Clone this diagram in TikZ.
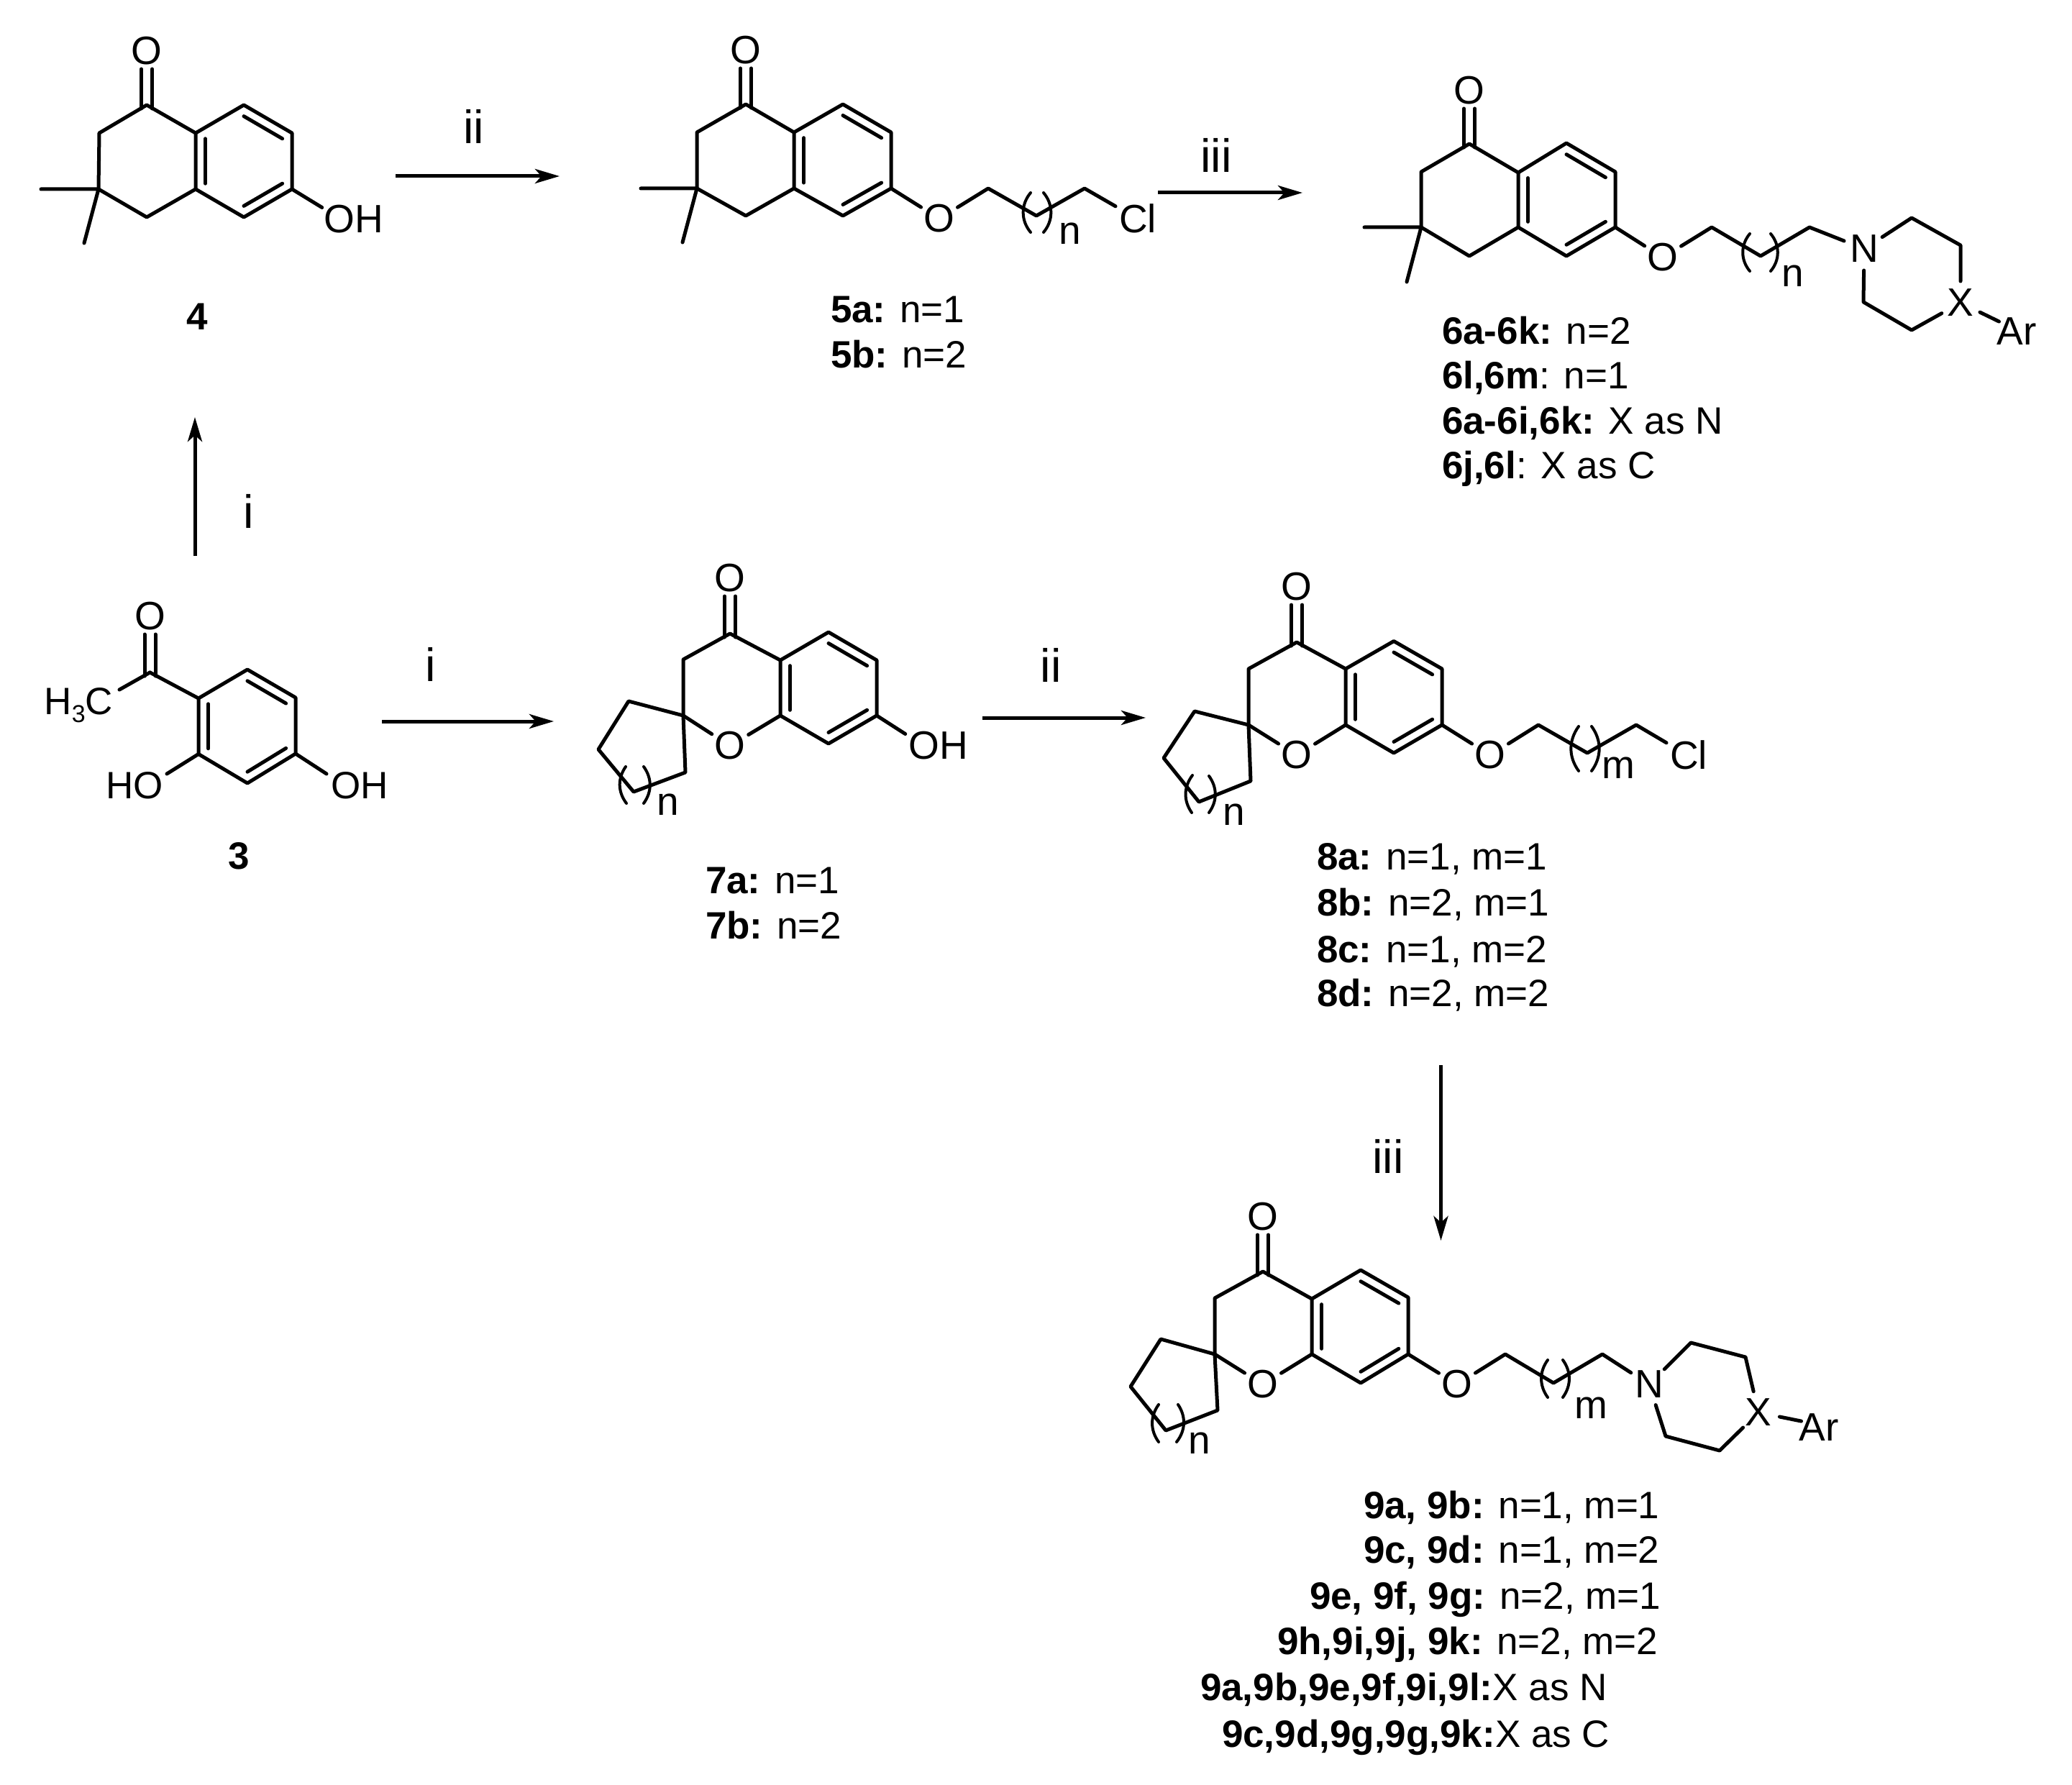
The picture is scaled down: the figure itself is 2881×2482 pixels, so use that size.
\documentclass[tikz,border=0pt]{standalone}
\usepackage{fontspec}
\setmainfont{Liberation Sans}
\usetikzlibrary{calc,arrows.meta}
\newcommand{\pts}[2]{\foreach \n/\x/\y in {#2} {\coordinate (#1\n) at (\x,\y);}}
% carbonyl + benzo ring + bridging carbon, shared by all the bicyclic cores
\newcommand{\core}[1]{%
  \coordinate (#1c) at ($(#1T)!0.5!(#1W)$);
  \draw[bond] (#1Q) -- (#1L) -- (#1K) -- (#1R) -- (#1T) -- (#1U) -- (#1V) -- (#1W) -- (#1P) -- (#1R);
  \draw[bond] ($(#1T)!0.2!(#1c)$) -- ($(#1U)!0.2!(#1c)$);
  \draw[bond] ($(#1V)!0.2!(#1c)$) -- ($(#1W)!0.2!(#1c)$);
  \draw[bond] ($(#1P)!0.2!(#1c)$) -- ($(#1R)!0.2!(#1c)$);
  \draw[bond] ($(#1K)+(-7.5,5)$) -- ($(#1oo)+(-7.5,25)$);
  \draw[bond] ($(#1K)+(7.5,5)$) -- ($(#1oo)+(7.5,25)$);
}
\tikzset{
  bond/.style={line width=1.25pt,line join=round,line cap=round},
  thinbond/.style={line width=1pt,line cap=round},
  rxn/.style={line width=1.25pt,-{Stealth[length=8.5pt,width=5pt,inset=2.2pt]}},
  atom/.style={circle,inner sep=0pt,outer sep=0pt,minimum size=15pt,font=\fontsize{13.75pt}{16pt}\selectfont},
  txt/.style={inner sep=0pt,outer sep=0pt,font=\fontsize{13.75pt}{16pt}\selectfont},
  lab/.style={inner sep=0pt,outer sep=0pt,anchor=base west,font=\fontsize{13.25pt}{16pt}\selectfont},
  bigcap/.style={inner sep=0pt,outer sep=0pt,font=\fontsize{13.25pt}{16pt}\selectfont\bfseries},
  cond/.style={inner sep=0pt,outer sep=0pt,font=\fontsize{16.25pt}{18pt}\selectfont},
}
\begin{document}
\begin{tikzpicture}[x=0.25pt,y=-0.25pt]
\useasboundingbox (0,0) rectangle (2881,2482);
\fill[white] (0,0) rectangle (2881,2482);

% ---------- compound 4
\pts{a}{K/204/146,L/138/185,Q/137/263,B/204/302,P/272/263,R/272/185,T/339/146,U/406/185,V/406/263,W/339/302,M/57/263,N/117/338}
\node[atom] (aoo) at (204,71) {O};
\node[txt] (aoh) at (492,305) {OH};
\core{a}
\draw[bond] (aQ) -- (aB) -- (aP);
\draw[bond] (aM) -- (aQ) -- (aN);
\draw[bond] (aV) -- ($(aoh.north west)+(-3,3)$);
\node[bigcap] (l4) at (274,440) {4};

% ---------- compound 5
\pts{b}{K/1037/145,L/969/184,Q/969/262,B/1037/300,P/1104/262,R/1104/184,T/1172/145,U/1239/184,V/1239/262,W/1172/300,M/891/262,N/949/337,C1/1374/262,C2/1441/300,C3/1508/262}
\node[atom] (boo) at (1037,70) {O};
\node[atom] (bo) at (1306,304) {O};
\node[txt] (bcl) at (1582,304) {Cl};
\node[txt] (bn) at (1488,325) {n};
\core{b}
\draw[bond] (bQ) -- (bB) -- (bP);
\draw[bond] (bM) -- (bQ) -- (bN);
\draw[bond] (bV) -- (bo) -- (bC1) -- (bC2) -- (bC3) -- ($(bcl.north west)+(-5,3)$);
\draw[thinbond] (1433,268) to[bend right=40] (1433,323);
\draw[thinbond] (1451,268) to[bend left=40] (1451,323);
\node[lab] (l5a) at (1155,449) {\textbf{5a:} n=1};
\node[lab] (l5b) at (1155,512) {\textbf{5b:} n=2};

% ---------- compound 6
\pts{c}{K/2043/200,L/1976/239,Q/1976/316,B/2043/356,P/2111/316,R/2111/240,T/2178/199,U/2246/239,V/2246/316,W/2178/356,M/1897/316,N/1956/392,C1/2380/316,C2/2448/356,C3/2516/316,D1/2658/303,D2/2726/341,D3/2658/459,D4/2591/420}
\node[atom] (coo) at (2043,126) {O};
\node[atom] (co) at (2312,358) {O};
\node[atom] (cnn) at (2592,346) {N};
\node[atom] (cx) at (2726,421) {X};
\node[txt] (car) at (2804,461) {Ar};
\node[txt] (cn) at (2493,384) {n};
\core{c}
\draw[bond] (cQ) -- (cB) -- (cP);
\draw[bond] (cM) -- (cQ) -- (cN);
\draw[bond] (cV) -- (co) -- (cC1) -- (cC2) -- (cC3) -- (cnn) -- (cD1) -- (cD2) -- (cx) -- (cD3) -- (cD4) -- (cnn);
\draw[bond] (cx) -- ($(car.north west)+(3,5)$);
\draw[thinbond] (2433,325) to[bend right=40] (2433,377);
\draw[thinbond] (2462,325) to[bend left=40] (2462,377);
\node[lab] (l6a) at (2005,479) {\textbf{6a-6k:} n=2};
\node[lab] (l6b) at (2005,541) {\textbf{6l,6m}: n=1};
\node[lab] (l6c) at (2005,603) {\textbf{6a-6i,6k:} X as N};
\node[lab] (l6d) at (2005,666) {\textbf{6j,6l}: X as C};

% ---------- compound 3
\pts{d}{K/208.5/935,R/276/971,T/344/931,U/411/970,V/411/1048,W/344/1089,P/276/1048.5,L/208.5/935,Q/208.5/935}
\node[atom] (doo) at (208.5,857) {O};
\node[lab,anchor=base east] (dme) at (157,993) {H{\fontsize{8.5pt}{9pt}\selectfont\raisebox{-2.8pt}{3}}C};
\node[lab,anchor=base east] (dho) at (227,1110) {HO};
\node[lab] (doh) at (460,1110) {OH};
\core{d}
\draw[bond] (dK) -- ($(dme.north east)+(9,3)$);
\draw[bond] (dP) -- ($(dho.north east)+(5,3)$);
\draw[bond] (dV) -- ($(doh.north west)+(-6,3)$);
\node[bigcap] (l3) at (332,1190) {3};

% ---------- compound 7
\pts{e}{K/1015/881,L/950/917,Q/950/995,P/1085/995,R/1085/918,T/1152/879,U/1219/918,V/1219/995,W/1152/1034,A/874/975,B/832/1042,C/881/1101,D/953/1074}
\node[atom] (eoo) at (1015,804) {O};
\node[atom] (eo) at (1015,1037) {O};
\node[txt] (eoh) at (1305,1037) {OH};
\node[txt] (en) at (929,1119) {n};
\core{e}
\draw[bond] (eQ) -- (eo) -- (eP);
\draw[bond] (eQ) -- (eA) -- (eB) -- (eC) -- (eD) -- (eQ);
\draw[bond] (eV) -- ($(eoh.north west)+(-5,3)$);
\draw[thinbond] (870,1066) to[bend right=36] (871,1117);
\draw[thinbond] (895,1066) to[bend left=36] (895,1117);
\node[lab] (l7a) at (981,1242) {\textbf{7a:} n=1};
\node[lab] (l7b) at (981,1305) {\textbf{7b:} n=2};

% ---------- compound 8
\pts{f}{K/1803/893,L/1736/930,Q/1736/1008,P/1871/1008,R/1871/930,T/1938/891.5,U/2005/930,V/2005/1008,W/1938/1047,A/1661/989,B/1618/1054,C/1667/1115,D/1739/1086,C1/2139/1008,C2/2207/1047,C3/2275/1008}
\node[atom] (foo) at (1803,816) {O};
\node[atom] (fo) at (1803,1050) {O};
\node[atom] (fo2) at (2072,1050) {O};
\node[txt] (fcl) at (2348,1050) {Cl};
\node[txt] (fm) at (2250,1068) {m};
\node[txt] (fn) at (1716,1133) {n};
\core{f}
\draw[bond] (fQ) -- (fo) -- (fP);
\draw[bond] (fQ) -- (fA) -- (fB) -- (fC) -- (fD) -- (fQ);
\draw[bond] (fV) -- (fo2) -- (fC1) -- (fC2) -- (fC3) -- ($(fcl.north west)+(-5,3)$);
\draw[thinbond] (1658,1078) to[bend right=36] (1657,1130);
\draw[thinbond] (1681,1079) to[bend left=36] (1681,1130);
\draw[thinbond] (2195,1010) to[bend right=36] (2195,1072);
\draw[thinbond] (2213,1010) to[bend left=36] (2213,1072);
\node[lab] (l8a) at (1831,1209) {\textbf{8a:} n=1, m=1};
\node[lab] (l8b) at (1831,1273) {\textbf{8b:} n=2, m=1};
\node[lab] (l8c) at (1831,1338) {\textbf{8c:} n=1, m=2};
\node[lab] (l8d) at (1831,1399) {\textbf{8d:} n=2, m=2};

% ---------- compound 9
\pts{g}{K/1756/1768,L/1689/1805,Q/1689/1883,P/1824/1883,R/1824/1806,T/1892/1766,U/1958/1804,V/1958/1883,W/1892/1923,A/1614/1862,B/1572/1928,C/1621/1989,D/1693/1961,C1/2093/1883,C2/2160/1923,C3/2228/1883,D1/2351/1867,D2/2427/1887,D3/2391/2017,D4/2316/1997}
\node[atom] (goo) at (1756,1692) {O};
\node[atom] (go) at (1756,1925) {O};
\node[atom] (go2) at (2026,1925) {O};
\node[atom] (gnn) at (2293,1925) {N};
\node[atom] (gx) at (2445,1964) {X};
\node[txt] (gar) at (2529,1985) {Ar};
\node[txt] (gm) at (2212,1958) {m};
\node[txt] (gn) at (1668,2007) {n};
\core{g}
\draw[bond] (gQ) -- (go) -- (gP);
\draw[bond] (gQ) -- (gA) -- (gB) -- (gC) -- (gD) -- (gQ);
\draw[bond] (gV) -- (go2) -- (gC1) -- (gC2) -- (gC3) -- (gnn) -- (gD1) -- (gD2) -- (gx) -- (gD3) -- (gD4) -- (gnn);
\draw[bond] (gx) -- ($(gar.north west)+(3,10)$);
\draw[thinbond] (1611,1953) to[bend right=36] (1611,2005);
\draw[thinbond] (1638,1953) to[bend left=36] (1636,2005);
\draw[thinbond] (2152,1891) to[bend right=36] (2152,1943);
\draw[thinbond] (2173,1891) to[bend left=36] (2173,1943);
\node[lab] (l9a) at (1896,2111) {\textbf{9a, 9b:} n=1, m=1};
\node[lab] (l9b) at (1896,2173) {\textbf{9c, 9d:} n=1, m=2};
\node[lab] (l9c) at (1821,2237) {\textbf{9e, 9f, 9g:} n=2, m=1};
\node[lab] (l9d) at (1776,2300) {\textbf{9h,9i,9j, 9k:} n=2, m=2};
\node[lab] (l9e) at (1669,2364) {\textbf{9a,9b,9e,9f,9i,9l:}X as N};
\node[lab] (l9f) at (1699,2429) {\textbf{9c,9d,9g,9g,9k:}X as C};

% ---------- reaction arrows
\pts{r}{1s/271/773,1e/271/580,2s/550/245,2e/778/245,3s/1610/268,3e/1811/268,4s/531/1003,4e/770/1003,5s/1366/998,5e/1593/998,6s/2003.5/1481,6e/2003.5/1725}
\draw[rxn] (r1s) -- (r1e);
\draw[rxn] (r2s) -- (r2e);
\draw[rxn] (r3s) -- (r3e);
\draw[rxn] (r4s) -- (r4e);
\draw[rxn] (r5s) -- (r5e);
\draw[rxn] (r6s) -- (r6e);
\node[cond] (c1) at (346,711) {i};
\node[cond] (c2) at (659,176) {ii};
\node[cond] (c3) at (1691,216) {iii};
\node[cond] (c4) at (599,924) {i};
\node[cond] (c5) at (1461,925) {ii};
\node[cond] (c6) at (1930,1608) {iii};
\end{tikzpicture}
\end{document}
